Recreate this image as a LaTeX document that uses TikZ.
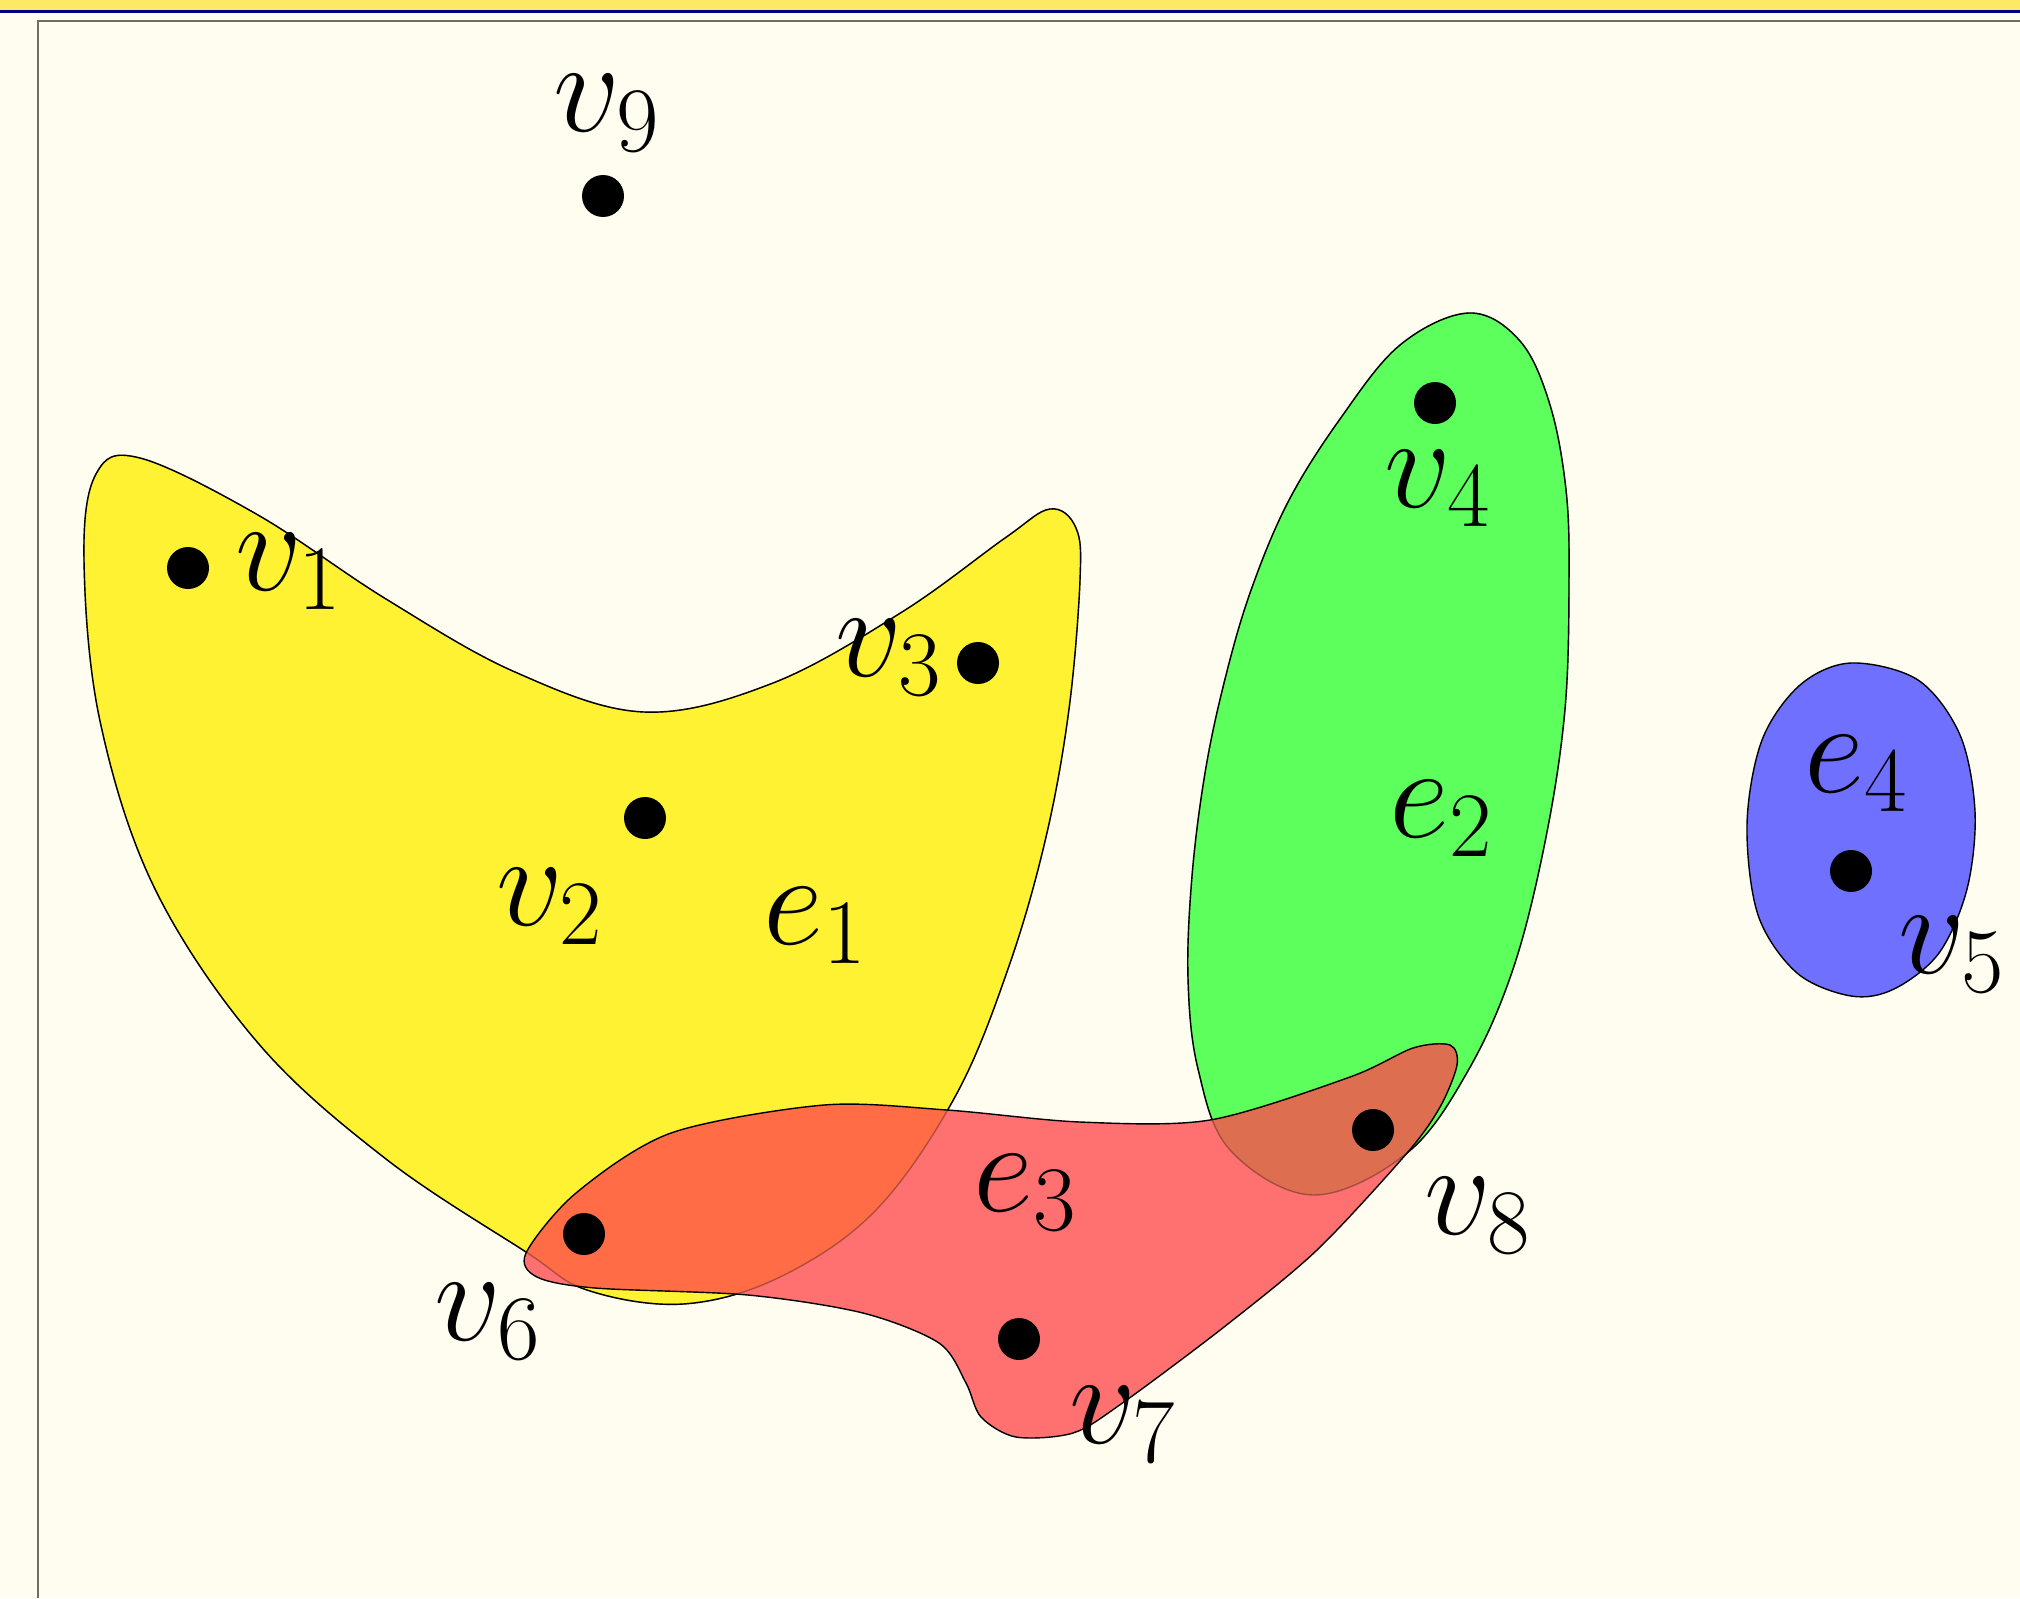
\RequirePackage{fix-cm}
\documentclass[tikz,border=0pt]{standalone}
\usepackage{tikz}

\definecolor{slidebg}{RGB}{255,252,240}
\definecolor{barcol}{RGB}{255,232,102}
\definecolor{barline}{RGB}{0,0,128}
\definecolor{framecol}{RGB}{110,110,100}
\definecolor{edgeyellow}{RGB}{255,242,51}
\definecolor{edgegreen}{RGB}{92,255,92}
\definecolor{edgeblue}{RGB}{112,112,255}
\definecolor{edgered}{RGB}{255,112,112}
\definecolor{redonyellow}{RGB}{255,108,70}
\definecolor{redongreen}{RGB}{222,110,80}

\newcommand\edgeOne{plot[smooth cycle,tension=0.6] coordinates {
  (84,560) (96,474) (140,458) (258,515) (386,599) (515,672) (644,712)
  (773,683) (902,612) (1005,538) (1050,509) (1076,528) (1080,580)
  (1069,709) (1046,837) (1009,966) (956,1095) (876,1210) (780,1277)
  (683,1304) (587,1290) (526,1252) (386,1159) (258,1043) (155,889) (100,721)}}
\newcommand\edgeTwo{plot[smooth cycle,tension=0.6] coordinates {
  (1469,313) (1520,341) (1550,405) (1566,490) (1569,580) (1565,709)
  (1546,837) (1514,966) (1469,1069) (1407,1153) (1313,1195) (1230,1150)
  (1198,1069) (1188,979) (1192,876) (1205,773) (1224,683) (1250,593)
  (1288,502) (1340,419) (1400,345)}}
\newcommand\edgeThree{plot[smooth cycle,tension=0.5] coordinates {
  (526,1253) (576,1193) (671,1133) (824,1105) (947,1110) (1080,1122)
  (1210,1120) (1350,1077) (1413,1048) (1450,1045) (1457,1065) (1440,1107)
  (1407,1153) (1317,1250) (1224,1327) (1121,1404) (1073,1433) (1016,1437)
  (981,1417) (966,1383) (939,1343) (863,1313) (748,1295) (595,1288) (537,1277)}}
\newcommand\edgeFour{plot[smooth cycle,tension=0.55] coordinates {
  (1851,663) (1918,680) (1960,735) (1975,812) (1967,889) (1939,953)
  (1894,989) (1851,996) (1797,973) (1758,915) (1747,824) (1762,740) (1800,685)}}

\begin{document}
\begin{tikzpicture}[
  x=0.1mm,y=-0.1mm,
  vertex/.style={circle,fill=black,inner sep=0pt,minimum size=4.2mm},
  lab/.style={anchor=base west,inner sep=0pt,font=\fontsize{37.5}{40}\selectfont},
  hedge/.style={draw=black,line width=0.4pt}
]
\path[use as bounding box] (0,0) rectangle (2020,1598);
% slide background and frame
\fill[slidebg] (0,0) rectangle (2020,1598);
\fill[barcol] (0,0) rectangle (2020,10);
\fill[barline] (0,10) rectangle (2020,13);
\draw[framecol,line width=0.6pt] (38,1598) -- (38,21) -- (2020,21);

% hyperedges
\draw[hedge,fill=edgeyellow] \edgeOne;
\draw[hedge,fill=edgegreen] \edgeTwo;
\draw[hedge,fill=edgeblue] \edgeFour;
\fill[edgered] \edgeThree;
% overlaps of e3 with e1 and e2
\begin{scope}
  \clip \edgeOne;
  \fill[redonyellow] \edgeThree;
\end{scope}
\begin{scope}
  \clip \edgeTwo;
  \fill[redongreen] \edgeThree;
\end{scope}
\draw[hedge,draw opacity=0.3] \edgeOne;
\draw[hedge,draw opacity=0.3] \edgeTwo;
\draw[hedge] \edgeThree;

% vertices
\node[vertex] (v1) at (188,568) {};
\node[vertex] (v2) at (645,818) {};
\node[vertex] (v3) at (978,663) {};
\node[vertex] (v4) at (1435,403) {};
\node[vertex] (v5) at (1851,871) {};
\node[vertex] (v6) at (584,1234) {};
\node[vertex] (v7) at (1019,1339) {};
\node[vertex] (v8) at (1373,1130) {};
\node[vertex] (v9) at (603,196) {};

% labels
\node[lab] (l1) at (235,590) {$v_1$};
\node[lab] (l2) at (496,925) {$v_2$};
\node[lab] (l3) at (835,676) {$v_3$};
\node[lab] (l4) at (1384,507) {$v_4$};
\node[lab] (l5) at (1898,973) {$v_5$};
\node[lab] (l6) at (434,1340) {$v_6$};
\node[lab] (l7) at (1069,1443) {$v_7$};
\node[lab] (l8) at (1424,1234) {$v_8$};
\node[lab] (l9) at (553,132) {$v_9$};
\node[lab] (le1) at (763,944) {$e_1$};
\node[lab] (le2) at (1389,837) {$e_2$};
\node[lab] (le3) at (973,1211) {$e_3$};
\node[lab] (le4) at (1804,792) {$e_4$};
\end{tikzpicture}
\end{document}
